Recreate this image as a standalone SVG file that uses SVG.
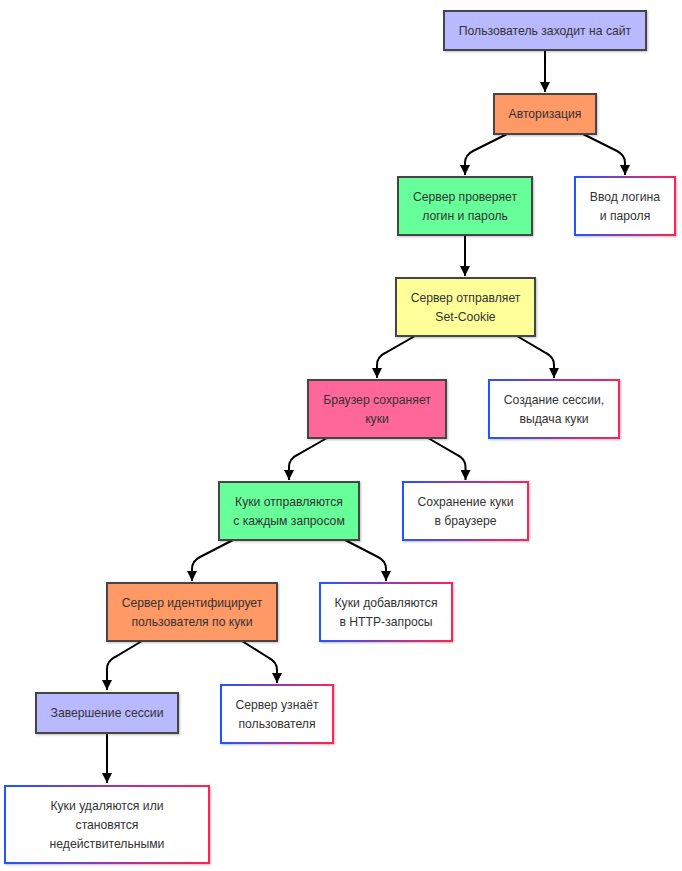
<svg xmlns="http://www.w3.org/2000/svg" width="682" height="871" viewBox="0 0 682 871">
<style>
  .n rect { stroke: #444; stroke-width: 2; filter: url(#sh); }
  .g rect { fill: #fff; stroke: url(#grad); stroke-width: 2; filter: url(#sh); }
  text { font-family: "Liberation Sans", Arial, sans-serif; font-size: 12.2px; fill: #333; text-anchor: middle; dominant-baseline: central; }
  .c path { fill: none; stroke: #000; stroke-width: 2; marker-end: url(#arr); }
  .lav { fill: #b9b9ff; } .org { fill: #ff9966; } .grn { fill: #66ff99; } .yel { fill: #ffff99; } .pnk { fill: #ff6699; }
</style>
<defs>
  <linearGradient id="grad" x1="0" y1="0" x2="1" y2="0">
    <stop offset="0" stop-color="#2255ff"/>
    <stop offset="1" stop-color="#ff2255"/>
  </linearGradient>
  <filter id="sh" x="-10%" y="-10%" width="120%" height="130%">
    <feDropShadow dx="1" dy="1" stdDeviation="1" flood-color="#000" flood-opacity="0.25"/>
  </filter>
  <marker id="arr" markerUnits="userSpaceOnUse" viewBox="0 0 10 10" refX="10" refY="5" markerWidth="10" markerHeight="10" orient="auto">
    <path d="M0,0 L10,5 L0,10 z" fill="#000"/>
  </marker>
</defs>
<rect width="682" height="871" fill="#fff"/>
<g class="c" id="connectors">
  <path d="M545,50 L545,92"/>
  <path d="M507,134 L473,151 Q465,155 465,163 L465,175"/>
  <path d="M583,134 L617,151 Q625,155 625,163 L625,175"/>
  <path d="M465,235 L465,276"/>
  <path d="M415,336 L385,353 Q377,357 377,365 L377,378"/>
  <path d="M517,336 L546,353 Q554,357 554,365 L554,378"/>
  <path d="M327,438 L297,455 Q289,459 289,467 L289,480"/>
  <path d="M428,438 L457.5,455 Q465.5,459 465.5,467 L465.5,480"/>
  <path d="M233,540 L200,557 Q192,561 192,569 L192,581"/>
  <path d="M345,540 L378,557 Q386,561 386,569 L386,581"/>
  <path d="M142,641 L115,657 Q107,661 107,669 L107,690"/>
  <path d="M242,641 L269,658 Q277,662 277,670 L277,683"/>
  <path d="M107,733 L107,783"/>
</g>
<g class="n" id="n1"><rect class="lav" x="444" y="11" width="202" height="39"/><text x="545" y="30.5">Пользователь заходит на сайт</text></g>
<g class="n" id="n2"><rect class="org" x="494" y="94" width="102" height="40"/><text x="545" y="114">Авторизация</text></g>
<g class="n" id="n3"><rect class="grn" x="398" y="177" width="134" height="58"/><text x="465" y="196.5">Сервер проверяет</text><text x="465" y="215.5">логин и пароль</text></g>
<g class="g" id="n4"><rect x="575" y="177" width="100" height="58"/><text x="625" y="196.5">Ввод логина</text><text x="625" y="215.5">и пароля</text></g>
<g class="n" id="n5"><rect class="yel" x="396" y="278" width="139" height="58"/><text x="465.5" y="297.5">Сервер отправляет</text><text x="465.5" y="316.5">Set-Cookie</text></g>
<g class="n" id="n6"><rect class="pnk" x="308" y="380" width="138" height="58"/><text x="377" y="399.5">Браузер сохраняет</text><text x="377" y="418.5">куки</text></g>
<g class="g" id="n7"><rect x="489" y="380" width="130" height="58"/><text x="554" y="399.5">Создание сессии,</text><text x="554" y="418.5">выдача куки</text></g>
<g class="n" id="n8"><rect class="grn" x="219" y="482" width="140" height="58"/><text x="289" y="501.5">Куки отправляются</text><text x="289" y="520.5">с каждым запросом</text></g>
<g class="g" id="n9"><rect x="403" y="482" width="125" height="58"/><text x="465.5" y="501.5">Сохранение куки</text><text x="465.5" y="520.5">в браузере</text></g>
<g class="n" id="n10"><rect class="org" x="107" y="583" width="170" height="58"/><text x="192" y="602.5">Сервер идентифицирует</text><text x="192" y="621.5">пользователя по куки</text></g>
<g class="g" id="n11"><rect x="320" y="583" width="132" height="58"/><text x="386" y="602.5">Куки добавляются</text><text x="386" y="621.5">в HTTP-запросы</text></g>
<g class="n" id="n12"><rect class="lav" x="36" y="693" width="142" height="40"/><text x="107" y="713">Завершение сессии</text></g>
<g class="g" id="n13"><rect x="221" y="685" width="112" height="58"/><text x="277" y="704.5">Сервер узнаёт</text><text x="277" y="723.5">пользователя</text></g>
<g class="g" id="n14"><rect x="5" y="786" width="204" height="77"/><text x="107" y="805.5">Куки удаляются или</text><text x="107" y="824.5">становятся</text><text x="107" y="843.5">недействительными</text></g>
</svg>
